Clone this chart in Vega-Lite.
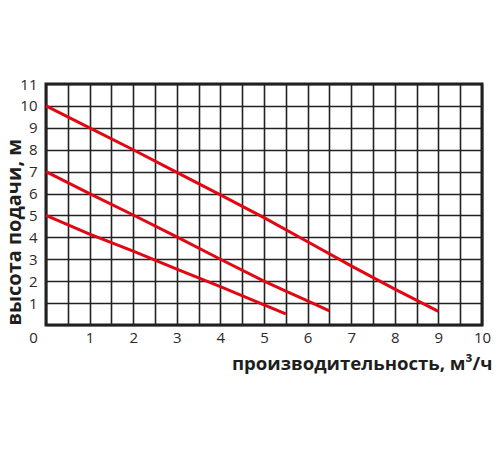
{
  "$schema": "https://vega.github.io/schema/vega-lite/v6.json",
  "autosize": {"type": "none"},
  "padding": {"left": 46, "top": 84, "right": 18, "bottom": 125},
  "width": 436,
  "height": 241,
  "background": "white",
  "config": {
    "view": {"stroke": "#1e1e1e", "strokeWidth": 3},
    "axis": {"labelFont": "Open Sans", "titleFont": "Open Sans", "labelColor": "#2a2a2a", "titleColor": "#1e1e1e"}
  },
  "data": {
    "values": [
      {"s": "a", "x": 0, "y": 10}, {"s": "a", "x": 1, "y": 9.0}, {"s": "a", "x": 2, "y": 8.0}, {"s": "a", "x": 3, "y": 6.97}, {"s": "a", "x": 4, "y": 5.94}, {"s": "a", "x": 5, "y": 4.9}, {"s": "a", "x": 6, "y": 3.8}, {"s": "a", "x": 7, "y": 2.7}, {"s": "a", "x": 8, "y": 1.64}, {"s": "a", "x": 9, "y": 0.62},
      {"s": "b", "x": 0, "y": 7}, {"s": "b", "x": 1, "y": 6.0}, {"s": "b", "x": 2, "y": 5.02}, {"s": "b", "x": 3, "y": 4.02}, {"s": "b", "x": 4, "y": 3.0}, {"s": "b", "x": 5, "y": 2.0}, {"s": "b", "x": 5.5, "y": 1.55}, {"s": "b", "x": 6, "y": 1.1}, {"s": "b", "x": 6.5, "y": 0.65},
      {"s": "c", "x": 0, "y": 5}, {"s": "c", "x": 1, "y": 4.15}, {"s": "c", "x": 2, "y": 3.37}, {"s": "c", "x": 3, "y": 2.55}, {"s": "c", "x": 4, "y": 1.75}, {"s": "c", "x": 5, "y": 0.92}, {"s": "c", "x": 5.5, "y": 0.51}
    ]
  },
  "mark": {"type": "line", "color": "#e30613", "strokeWidth": 3},
  "encoding": {
    "detail": {"field": "s", "type": "nominal"},
    "x": {
      "field": "x", "type": "quantitative",
      "scale": {"domain": [0, 10], "nice": false, "zero": false},
      "axis": {
        "values": [0, 0.5, 1, 1.5, 2, 2.5, 3, 3.5, 4, 4.5, 5, 5.5, 6, 6.5, 7, 7.5, 8, 8.5, 9, 9.5, 10],
        "labelExpr": "datum.value % 1 == 0 ? format(datum.value, 'd') : ''",
        "grid": true, "gridColor": "#222222", "gridWidth": 1.6, "gridOpacity": 1,
        "ticks": false, "domain": false,
        "labelFontSize": 15, "labelPadding": 5,
        "labelOffset": {"condition": {"test": "datum.value == 0", "value": -13}, "value": 0},
        "labelFlush": false,
        "title": "производительность, м³/ч",
        "titleFontSize": 18.6, "titleFontWeight": "bold",
        "titleX": 446, "titleY": 38, "titleAlign": "right", "titleBaseline": "middle", "titleAnchor": "end"
      }
    },
    "y": {
      "field": "y", "type": "quantitative",
      "scale": {"domain": [0, 11], "nice": false},
      "axis": {
        "values": [0, 1, 2, 3, 4, 5, 6, 7, 8, 9, 10, 11],
        "labelExpr": "datum.value == 0 ? '' : format(datum.value, 'd')",
        "grid": true, "gridColor": "#222222", "gridWidth": 1.6, "gridOpacity": 1,
        "ticks": false, "domain": false,
        "labelFontSize": 15, "labelPadding": 9, "labelFlush": false,
        "title": "высота подачи, м",
        "titleFontSize": 20, "titleFontWeight": "bold",
        "titleAnchor": "start", "titleX": -32, "titleBaseline": "middle"
      }
    }
  }
}
